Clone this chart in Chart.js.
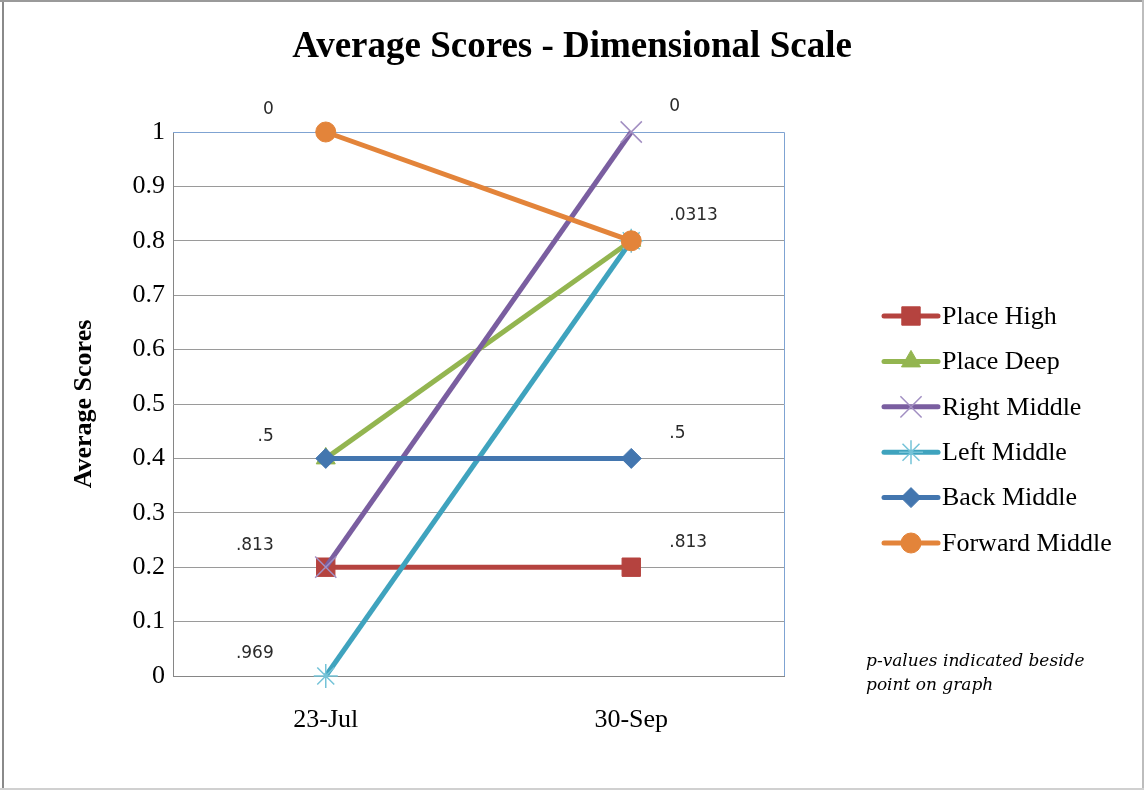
<!DOCTYPE html>
<html>
<head>
<meta charset="utf-8">
<script src="https://cdn.jsdelivr.net/npm/chart.js@4.4.1/dist/chart.umd.min.js"></script>
<style>
  html, body { margin: 0; padding: 0; background: #ffffff; }
  #wrap { width: 1144px; height: 790px; position: relative; }
  canvas { display: block; }
</style>
</head>
<body>
<div id="wrap"><canvas id="chart" width="1144" height="790"></canvas></div>
<script>
// ---- data ----
const categories = ['23-Jul', '30-Sep'];
const seriesNames = ['Place High', 'Place Deep', 'Right Middle', 'Left Middle', 'Back Middle', 'Forward Middle'];
const placeHigh     = [0.2, 0.2];
const placeDeep     = [0.4, 0.8];
const rightMiddle   = [0.2, 1.0];
const leftMiddle    = [0.0, 0.8];
const backMiddle    = [0.4, 0.4];
const forwardMiddle = [1.0, 0.8];

// p-values written beside the points (null = none)
const pPlaceHigh     = ['.813', '.813'];
const pPlaceDeep     = [null, null];
const pRightMiddle   = [null, '0'];
const pLeftMiddle    = ['.969', null];
const pBackMiddle    = ['.5', '.5'];
const pForwardMiddle = ['0', '.0313'];

const yTickLabels = ['0', '0.1', '0.2', '0.3', '0.4', '0.5', '0.6', '0.7', '0.8', '0.9', '1'];

const chartTitle = 'Average Scores - Dimensional Scale';
const yAxisTitle = 'Average Scores';
const noteLines = ['p-values indicated beside', 'point on graph'];

// ---- styling ----
const seriesValues = [placeHigh, placeDeep, rightMiddle, leftMiddle, backMiddle, forwardMiddle];
const seriesPValues = [pPlaceHigh, pPlaceDeep, pRightMiddle, pLeftMiddle, pBackMiddle, pForwardMiddle];
const seriesStyles = [
  { line: '#B5433F', fill: '#B5433F', edge: '#B5433F', shape: 'rect',     r: 13, edgeW: 1 },
  { line: '#93B550', fill: '#93B550', edge: '#93B550', shape: 'triangle', r: 11, edgeW: 1 },
  { line: '#7A5EA0', fill: '#7A5EA0', edge: '#A28FC2', shape: 'crossRot', r: 15, edgeW: 1.5 },
  { line: '#3FA3BE', fill: '#3FA3BE', edge: '#74C3D8', shape: 'star',     r: 12, edgeW: 1.5 },
  { line: '#4376AF', fill: '#4376AF', edge: '#4376AF', shape: 'rectRot',  r: 10, edgeW: 1 },
  { line: '#E3843A', fill: '#E3843A', edge: '#E3843A', shape: 'circle',   r: 10, edgeW: 1 }
];

const SERIF = '"Liberation Serif", "Times New Roman", serif';

const datasets = seriesNames.map((name, i) => ({
  label: name,
  data: seriesValues[i],
  borderColor: seriesStyles[i].line,
  backgroundColor: seriesStyles[i].fill,
  borderWidth: 5,
  pointStyle: seriesStyles[i].shape,
  pointRadius: seriesStyles[i].r,
  pointHoverRadius: seriesStyles[i].r,
  pointBackgroundColor: seriesStyles[i].fill,
  pointBorderColor: seriesStyles[i].edge,
  pointBorderWidth: seriesStyles[i].edgeW,
  tension: 0,
  fill: false,
  clip: false,
  // later series are painted on top
  order: seriesNames.length - i
}));

function drawMarker(ctx, style, x, y, radius) {
  ctx.save();
  ctx.fillStyle = style.fill;
  ctx.strokeStyle = style.edge;
  ctx.lineWidth = style.edgeW;
  Chart.helpers.drawPoint(ctx, { pointStyle: style.shape, radius: radius, rotation: 0, borderWidth: style.edgeW }, x, y);
  ctx.restore();
}

const decorations = {
  id: 'decorations',
  beforeDraw(chart) {
    const ctx = chart.ctx;
    ctx.save();
    ctx.fillStyle = '#ffffff';
    ctx.fillRect(0, 0, chart.width, chart.height);
    ctx.restore();
  },
  beforeDatasetsDraw(chart) {
    const { ctx, chartArea: a } = chart;
    ctx.save();
    ctx.strokeStyle = '#7FA3D2';
    ctx.lineWidth = 1;
    ctx.beginPath();
    ctx.moveTo(a.left, a.top + 0.5);
    ctx.lineTo(a.right + 0.5, a.top + 0.5);
    ctx.lineTo(a.right + 0.5, a.bottom);
    ctx.stroke();
    ctx.restore();
  },
  afterDraw(chart) {
    const { ctx, chartArea: a, scales } = chart;
    const xs = scales.x, ys = scales.y;
    ctx.save();

    // p-value labels beside the points
    ctx.font = '17px "DejaVu Sans", sans-serif';
    ctx.fillStyle = '#2a2a2a';
    ctx.textBaseline = 'middle';
    seriesPValues.forEach((arr, si) => {
      arr.forEach((txt, idx) => {
        if (txt === null) return;
        const px = xs.getPixelForValue(idx);
        const py = ys.getPixelForValue(seriesValues[si][idx]);
        if (idx === 0) {
          ctx.textAlign = 'right';
          ctx.fillText(txt, px - 52, py - 22);
        } else {
          ctx.textAlign = 'left';
          ctx.fillText(txt, px + 38, py - 25);
        }
      });
    });

    // chart title
    ctx.fillStyle = '#000000';
    ctx.font = 'bold 37px ' + SERIF;
    ctx.textAlign = 'center';
    ctx.textBaseline = 'alphabetic';
    ctx.fillText(chartTitle, 572, 57);

    // y axis title
    ctx.save();
    ctx.translate(91, (a.top + a.bottom) / 2);
    ctx.rotate(-Math.PI / 2);
    ctx.font = 'bold 26px ' + SERIF;
    ctx.textAlign = 'center';
    ctx.textBaseline = 'alphabetic';
    ctx.fillText(yAxisTitle, 0, 0);
    ctx.restore();

    // legend: line with marker, then name
    const lx0 = 884, lx1 = 938, ly0 = 316, lstep = 45.4;
    seriesNames.forEach((name, i) => {
      const y = ly0 + i * lstep;
      const st = seriesStyles[i];
      ctx.save();
      ctx.strokeStyle = st.line;
      ctx.lineWidth = 5;
      ctx.lineCap = 'round';
      ctx.beginPath();
      ctx.moveTo(lx0, y);
      ctx.lineTo(lx1, y);
      ctx.stroke();
      ctx.restore();
      drawMarker(ctx, st, (lx0 + lx1) / 2, y, st.r);
      ctx.fillStyle = '#000000';
      ctx.font = '26px ' + SERIF;
      ctx.textAlign = 'left';
      ctx.textBaseline = 'middle';
      ctx.fillText(name, 942, y + 1);
    });

    // note
    ctx.font = 'italic 17px "DejaVu Serif", serif';
    ctx.textAlign = 'left';
    ctx.textBaseline = 'middle';
    ctx.fillStyle = '#000000';
    noteLines.forEach((t, i) => ctx.fillText(t, 866, 662 + i * 24));

    // outer frame
    ctx.fillStyle = '#8a8a8a';
    ctx.fillRect(2, 0, 2, chart.height);
    ctx.fillStyle = '#9a9a9a';
    ctx.fillRect(0, 0, chart.width, 2);
    ctx.fillStyle = '#bdbdbd';
    ctx.fillRect(chart.width - 2, 0, 2, chart.height);
    ctx.fillStyle = '#d0d0d0';
    ctx.fillRect(0, chart.height - 2, chart.width, 2);

    ctx.restore();
  }
};

new Chart(document.getElementById('chart'), {
  type: 'line',
  data: { labels: categories, datasets: datasets },
  options: {
    responsive: false,
    animation: false,
    events: [],
    layout: { padding: { top: 132, right: 360, left: 0, bottom: 0 } },
    plugins: {
      legend: { display: false },
      title: { display: false },
      tooltip: { enabled: false }
    },
    scales: {
      x: {
        type: 'category',
        offset: true,
        grid: { display: false, drawTicks: false },
        border: { display: true, color: '#868686', width: 1 },
        ticks: { color: '#000000', font: { family: SERIF, size: 26 }, padding: 29 },
        afterFit(scale) { scale.height = 114; }
      },
      y: {
        min: 0,
        max: 1,
        grid: {
          drawTicks: false,
          lineWidth: 1,
          color: (c) => (c.tick && Math.abs(c.tick.value - 1) < 1e-9) ? '#7FA3D2' : '#9A9A9A'
        },
        border: { display: true, color: '#868686', width: 1 },
        ticks: {
          stepSize: 0.1,
          color: '#000000',
          font: { family: SERIF, size: 26 },
          padding: 8,
          callback: (v, i) => yTickLabels[i]
        },
        afterFit(scale) { scale.width = 173; }
      }
    }
  },
  plugins: [decorations]
});
</script>
</body>
</html>
